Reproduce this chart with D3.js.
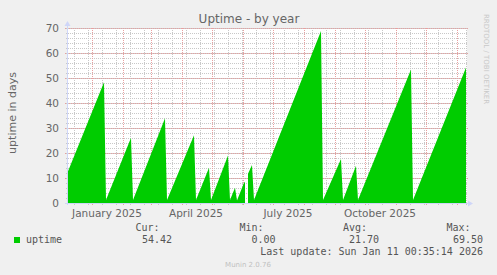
<!DOCTYPE html>
<html>
<head>
<meta charset="utf-8">
<script src="https://cdn.jsdelivr.net/npm/d3@7"></script>
<style>
  html, body { margin: 0; padding: 0; background: #f0f0f0; }
  svg { display: block; }
  text { font-family: "DejaVu Sans", sans-serif; fill: #666; }
  .mono { font-family: "DejaVu Sans Mono", monospace; font-size: 10px; fill: #555; }
</style>
</head>
<body>
<div class="container"></div>
<script>
// uptime vertices (null = no data)
var upDates = ["2024-12-07","2025-01-13","2025-01-15","2025-02-09","2025-02-11",
               "2025-03-15","2025-03-17","2025-04-13","2025-04-15","2025-04-28",
               "2025-04-30","2025-05-17","2025-05-19","2025-05-24","2025-05-26",
               "2025-06-02","2025-06-03","2025-06-04","2025-06-06","2025-06-10",
               "2025-06-12","2025-08-18","2025-08-20","2025-09-07","2025-09-09",
               "2025-09-22","2025-09-24","2025-11-16","2025-11-18","2026-01-10"];
var upValues = [11.7, 48.3, 1.2, 26.1, 1.2,
                33.9, 1.2, 27.1, 1.2, 14.1,
                1.2, 19.0, 1.2, 6.1, 1.0,
                8.1, 8.4, null, 11.7, 15.2,
                1.2, 68.8, 1.2, 17.6, 1.2,
                14.9, 1.2, 53.4, 1.2, 54.2];

var monthLabels = ["January 2025", "April 2025", "July 2025", "October 2025"];
var labelDates  = ["2025-01-16", "2025-04-15", "2025-07-16", "2025-10-16"];
var yTicks = [0, 10, 20, 30, 40, 50, 60, 70];

var legendHeads  = ["Cur:", "Min:", "Avg:", "Max:"];
var legendValues = ["54.42", "0.00", "21.70", "69.50"];
var lastUpdate = "Last update: Sun Jan 11 00:35:14 2026";

var width = 497, height = 275;
var pLeft = 67, pRight = 467, pTop = 28, pBottom = 203;
var parse = d3.utcParse("%Y-%m-%d");
var t0 = parse("2024-12-07"), t1 = parse("2026-01-11");

var x = d3.scaleUtc().domain([t0, t1]).range([pLeft, pRight]);
var y = d3.scaleLinear().domain([0, 70]).range([pBottom, pTop]);

var svg = d3.select(".container").append("svg")
            .attr("width", width).attr("height", height);

svg.append("rect").attr("width", width).attr("height", height).attr("fill", "#f0f0f0");
svg.append("rect").attr("x", pLeft).attr("y", pTop)
   .attr("width", pRight - pLeft).attr("height", pBottom - pTop).attr("fill", "#fff");

// grid
var minorX = d3.utcDay.range(parse("2024-12-14"), t1, 14);
var majorX = d3.utcMonth.range(t0, t1);
var minorY = d3.range(0, 71, 2);

var grid = svg.append("g").attr("shape-rendering", "crispEdges");
grid.selectAll("line.hmin").data(minorY).enter().append("line")
    .attr("x1", pLeft - 1).attr("x2", pRight + 1)
    .attr("y1", d => Math.round(y(d)) + 0.5).attr("y2", d => Math.round(y(d)) + 0.5)
    .attr("stroke", "#c8c8c8").attr("stroke-dasharray", "1,1");
grid.selectAll("line.vmin").data(minorX).enter().append("line")
    .attr("x1", d => Math.round(x(d)) + 0.5).attr("x2", d => Math.round(x(d)) + 0.5)
    .attr("y1", pTop).attr("y2", pBottom + 2)
    .attr("stroke", "#c8c8c8").attr("stroke-dasharray", "1,1");
grid.selectAll("line.hmaj").data(yTicks).enter().append("line")
    .attr("x1", pLeft - 2).attr("x2", pRight + 1)
    .attr("y1", d => Math.round(y(d)) + 0.5).attr("y2", d => Math.round(y(d)) + 0.5)
    .attr("stroke", "#e8a0a0").attr("stroke-dasharray", "1,1");
grid.selectAll("line.vmaj").data(majorX).enter().append("line")
    .attr("x1", d => Math.round(x(d)) + 0.5).attr("x2", d => Math.round(x(d)) + 0.5)
    .attr("y1", pTop).attr("y2", pBottom + 3)
    .attr("stroke", "#e8a0a0").attr("stroke-dasharray", "1,1");

// area
var points = upDates.map((d, i) => ({date: parse(d), value: upValues[i]}));
var area = d3.area()
    .defined(d => d.value != null)
    .x(d => x(d.date))
    .y0(pBottom)
    .y1(d => y(d.value));
svg.append("path").datum(points).attr("d", area).attr("fill", "#00cc00");

// axes
var axisCol = "#cfd6f8";
svg.append("line").attr("x1", pLeft + 0.5).attr("x2", pLeft + 0.5)
   .attr("y1", pBottom + 2).attr("y2", 24).attr("stroke", axisCol);
svg.append("line").attr("x1", pLeft - 2).attr("x2", 470)
   .attr("y1", pBottom + 0.5).attr("y2", pBottom + 0.5).attr("stroke", axisCol);
svg.append("path").attr("d", `M${pLeft - 2.5},26 L${pLeft + 0.5},21 L${pLeft + 3.5},26 Z`).attr("fill", axisCol);
svg.append("path").attr("d", `M468,${pBottom - 2.5} L473,${pBottom + 0.5} L468,${pBottom + 3.5} Z`).attr("fill", axisCol);

// y labels
svg.selectAll("text.ylab").data(yTicks).enter().append("text")
   .attr("x", 59).attr("y", d => y(d) + 4)
   .attr("text-anchor", "end").attr("font-size", "10.5px")
   .text(d => d);

// x labels
svg.selectAll("text.xlab").data(monthLabels).enter().append("text")
   .attr("x", (d, i) => x(parse(labelDates[i])))
   .attr("y", 217).attr("text-anchor", "middle").attr("font-size", "10.5px")
   .text(d => d);

// titles
svg.append("text").attr("x", 249).attr("y", 23).attr("text-anchor", "middle")
   .attr("font-size", "12px").text("Uptime - by year");
svg.append("text").attr("transform", "translate(16,113) rotate(-90)")
   .attr("text-anchor", "middle").attr("font-size", "11px").text("uptime in days");
svg.append("text").attr("transform", "translate(484,59) rotate(90)")
   .attr("text-anchor", "middle").attr("font-size", "7px").style("fill", "#c8c8c8")
   .text("RRDTOOL / TOBI OETIKER");

// legend
svg.append("rect").attr("x", 14).attr("y", 237).attr("width", 6).attr("height", 6).attr("fill", "#00cc00");
svg.append("text").attr("class", "mono").attr("x", 26).attr("y", 243).text("uptime");
var colRight = [159.5, 263.5, 367, 470.5];
var valRight = [172, 275.5, 379, 483];
svg.selectAll("text.head").data(legendHeads).enter().append("text")
   .attr("class", "mono").attr("x", (d, i) => colRight[i]).attr("y", 231)
   .attr("text-anchor", "end").text(d => d);
svg.selectAll("text.val").data(legendValues).enter().append("text")
   .attr("class", "mono").attr("x", (d, i) => valRight[i]).attr("y", 243)
   .attr("text-anchor", "end").text(d => d);
svg.append("text").attr("class", "mono").attr("x", 483).attr("y", 255)
   .attr("text-anchor", "end").text(lastUpdate);
svg.append("text").attr("x", 248).attr("y", 267).attr("text-anchor", "middle")
   .attr("font-size", "7px").style("fill", "#c0c0c0").text("Munin 2.0.76");
</script>
</body>
</html>
